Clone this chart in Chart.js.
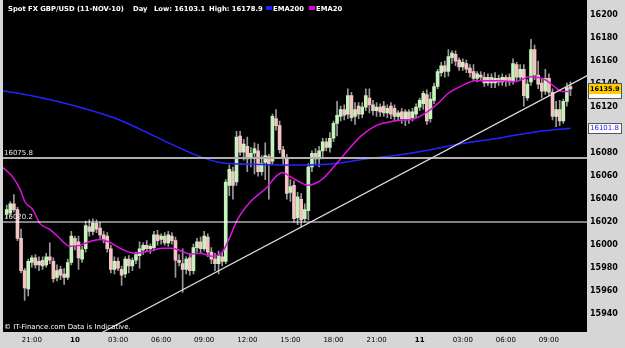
<!DOCTYPE html>
<html><head><meta charset="utf-8">
<script src="https://cdn.jsdelivr.net/npm/chart.js@4/dist/chart.umd.min.js"></script>
<style>html,body{margin:0;padding:0;background:#d6d6d6;overflow:hidden}canvas{display:block}</style>
</head><body>
<canvas id="c" width="625" height="348"></canvas>
<script>
// ---- data (15-minute candles, GBP/USD x10000, from 19:15 on 9 Nov to 10:30 on 11 Nov) ----
const OPEN = [16027,16028,16036,16031,16006,15978,15962,15985,15989,15983,15987,15983,15990,15986,15972,15979,15975,15972,15985,16006,
16003,15988,15997,16016,16012,16019,16015,16009,16008,15997,15979,15986,15979,15975,15988,15982,15987,15991,15996,16000,
15997,15998,16009,16005,16008,16002,16008,16004,15987,15984,15979,15989,15978,15998,16003,15997,16007,15994,15988,15984,
15990,15986,16052,16064,16055,16095,16081,16086,16076,16080,16082,16064,16072,16077,16073,16110,16104,16083,16076,16046,
16052,16024,16040,16023,16030,16068,16080,16075,16082,16090,16085,16093,16106,16112,16118,16114,16130,16112,16121,16114,
16120,16128,16122,16117,16120,16121,16115,16121,16119,16112,16116,16110,16116,16111,16114,16120,16123,16131,16110,16126,
16138,16150,16156,16151,16163,16166,16161,16155,16158,16154,16151,16145,16148,16146,16141,16146,16141,16145,16142,16146,
16146,16143,16157,16146,16153,16128,16142,16170,16148,16141,16134,16145,16133,16112,16118,16108,16125,16138];
const HIGH = [16035,16038,16044,16033,16014,15980,15988,15991,15992,15990,15990,15993,16002,15989,15983,15982,15980,15988,16012,16008,
16008,15999,16021,16022,16023,16022,16020,16012,16011,16000,15990,15989,15982,15990,15991,15989,15994,16003,16002,16004,
16001,16012,16013,16010,16011,16012,16011,16007,15992,15997,15990,15993,16001,16006,16007,16012,16010,15998,15993,15995,
15994,16057,16070,16068,16099,16099,16092,16094,16085,16089,16088,16078,16089,16079,16114,16118,16108,16086,16079,16057,
16056,16046,16045,16036,16071,16082,16084,16086,16093,16093,16098,16108,16125,16121,16122,16136,16133,16124,16124,16124,
16136,16136,16126,16124,16123,16125,16122,16124,16122,16117,16119,16118,16118,16119,16123,16128,16134,16135,16133,16141,
16153,16159,16160,16170,16169,16169,16163,16162,16161,16157,16157,16151,16151,16150,16149,16149,16150,16148,16149,16148,
16149,16162,16159,16157,16157,16144,16178.9,16174,16160,16145,16153,16149,16136,16125,16126,16127,16141,16142];
const LOW = [16024,16026,16029,16004,15976,15952,15956,15981,15980,15978,15979,15981,15984,15968,15969,15970,15966,15970,15983,15996,
15979,15985,15994,16008,16009,16011,16006,16002,15994,15976,15975,15978,15965,15972,15976,15978,15984,15980,15992,15995,
15993,15995,16000,16001,16000,15999,16001,15972,15982,15959,15975,15974,15975,15994,15993,15995,15990,15984,15978,15975,
15982,15984,16043,16040,16052,16078,16074,16064,16068,16062,16060,16061,16057,16040,16070,16100,16080,16070,16040,16038,
16020,16018,16016,16020,16022,16064,16071,16068,16075,16082,16081,16090,16095,16108,16109,16110,16108,16105,16110,16111,
16117,16115,16113,16112,16112,16112,16111,16110,16108,16109,16106,16104,16106,16108,16111,16117,16118,16105,16107,16123,
16136,16147,16146,16147,16158,16156,16152,16152,16150,16146,16143,16142,16143,16138,16139,16137,16137,16139,16139,16138,
16139,16140,16143,16143,16121,16126,16139,16144,16136,16128,16131,16130,16109,16103.1,16104,16106,16121,16130];
const CLOSE = [16031,16036,16031,16006,15978,15963,15986,15989,15983,15986,15982,15990,15987,15971,15978,15974,15972,15985,16008,16000,
15989,15996,16017,16012,16019,16014,16009,16005,15997,15979,15986,15980,15974,15988,15982,15987,15992,15997,16000,15997,
15999,16009,16004,16008,16002,16009,16004,15987,15985,15979,15988,15978,15998,16003,15997,16008,15994,15988,15984,15991,
15986,16055,16066,16052,16094,16081,16088,16075,16080,16084,16064,16071,16078,16071,16112,16104,16083,16076,16045,16051,
16023,16042,16022,16031,16068,16080,16075,16082,16090,16085,16093,16106,16113,16118,16113,16130,16111,16118,16114,16120,
16130,16122,16117,16120,16116,16115,16119,16114,16112,16115,16110,16116,16110,16116,16120,16126,16132,16108,16127,16138,
16151,16156,16151,16164,16167,16160,16155,16159,16153,16150,16145,16149,16146,16141,16146,16141,16145,16142,16146,16143,
16142,16158,16146,16153,16130,16140,16170,16148,16140,16134,16145,16133,16112,16118,16108,16125,16137,16135.9];

// EMA readings (candle position, value)
const EMA200_AT = [-1.03, 9.3, 20.4, 31.6, 42.7, 53.8, 59.4, 70.6, 81.7, 91.4, 99.0, 109.6, 116.5, 126.3, 137.4, 147.2, 157];
const EMA200 = [16134.4, 16128.4, 16119.9, 16108.7, 16092.5, 16077.0, 16072.0, 16070.2, 16069.7, 16071.0, 16074.5, 16078.7, 16082.2, 16088.2, 16093.3, 16098.5, 16101.8];
const EMA20_AT = [-1.03, 1.75, 3.7, 5.1, 7.3, 9.3, 12.1, 14.8, 17.6, 20.4, 23.2, 26.0, 28.2, 32.1, 35.7, 39.4, 43.3, 46.0, 48.8, 51.1,
53.8, 57.2, 60.0, 61.6, 64.4, 67.8, 72.5, 75.3, 76.9, 78.4, 81.7, 83.9, 87.8, 91.4, 95.1, 99.0, 102.6, 106.2, 109.6, 113.0,
116.5, 120.1, 122.9, 126.8, 130.4, 137.4, 141.6, 145.8, 150.0, 152.2, 154.7, 157];
const EMA20 = [16067.6, 16059.0, 16048.8, 16037.6, 16030.8, 16018.8, 16013.6, 16005.9, 15999.1, 15999.9, 16003.3, 16005.1, 16003.3, 15996.5, 15993.0, 15994.8, 15997.3, 15997.3, 15994.8, 15992.2,
15993.0, 15990.5, 15993.9, 16003.3, 16023.1, 16037.6, 16050.5, 16060.8, 16063.3, 16060.8, 16054.8, 16052.2, 16057.3, 16069.3, 16083.0, 16095.9, 16103.6, 16107.0, 16108.7, 16109.6,
16114.7, 16123.3, 16131.9, 16138.7, 16143.0, 16143.0, 16142.2, 16146.4, 16143.9, 16138.7, 16133.6, 16133.6];

const LEVELS = [16075.8, 16020.2];
const TREND_AT = [0, 162];
const TREND = [15880.3, 16148.0];

const X_TICK_AT = [7, 19, 31, 43, 55, 67, 79, 91, 103, 115, 127, 139, 151];
const X_TICK_LABELS = ['21:00', '10', '03:00', '06:00', '09:00', '12:00', '15:00', '18:00', '21:00', '11', '03:00', '06:00', '09:00'];
const DAY_LABELS = ['10', '11'];
const Y_TICKS = [15940, 15960, 15980, 16000, 16020, 16040, 16060, 16080, 16100, 16120, 16140, 16160, 16180, 16200];
const X_MIN = -1.03, X_MAX = 161.6;
const Y_MIN = 15924.6, Y_MAX = 16206.4;

const TITLE = 'Spot FX GBP/USD (11-NOV-10)';
const PERIOD = 'Day';
const DAY_LOW = 16103.1, DAY_HIGH = 16178.9;
const COPYRIGHT = '\u00A9 IT-Finance.com Data is Indicative.';

// ---- styles ----
const BG = '#d6d6d6';
const UP = '#c6f2bc';
const DOWN = '#f4c4c4';
const WICK = '#9a9a9a';
const FONT = 'DejaVu Sans';

const idx = OPEN.map((_, i) => i);
const wickData = idx.map(i => ({x: i, y: [LOW[i], HIGH[i]]}));
const bodyData = idx.map(i => ({x: i, y: [Math.min(OPEN[i], CLOSE[i]), Math.max(OPEN[i], CLOSE[i])]}));
const bodyColors = idx.map(i => CLOSE[i] >= OPEN[i] ? UP : DOWN);

const decor = {
  id: 'decor',
  beforeDraw(chart) {
    const {ctx, chartArea: a} = chart;
    ctx.save();
    ctx.fillStyle = BG;
    ctx.fillRect(0, 0, chart.width, chart.height);
    ctx.fillStyle = '#000';
    ctx.fillRect(a.left, 0, a.right - a.left, a.bottom);
    ctx.restore();
  },
  afterDatasetsDraw(chart) {
    const {ctx, chartArea: a, scales} = chart;
    const y = scales.y;
    ctx.save();
    ctx.textBaseline = 'alphabetic';
    ctx.font = '7px "' + FONT + '"';
    ctx.fillStyle = '#e8e8e8';
    LEVELS.forEach(v => {
      ctx.fillText(v.toFixed(1), a.left + 1, y.getPixelForValue(v) - 3);
    });
    ctx.fillStyle = '#fff';
    ctx.font = 'bold 6.8px "' + FONT + '"';
    ctx.fillText(TITLE, 8, 11);
    ctx.fillText(PERIOD, 133, 11);
    ctx.fillText('Low: ' + DAY_LOW.toFixed(1), 154, 11);
    ctx.fillText('High: ' + DAY_HIGH.toFixed(1), 209, 11);
    ctx.fillStyle = '#2020ff';
    ctx.fillRect(266, 6, 6, 4);
    ctx.fillStyle = '#fff';
    ctx.fillText('EMA200', 273, 11);
    ctx.fillStyle = '#e000e0';
    ctx.fillRect(309, 6, 6, 4);
    ctx.fillStyle = '#fff';
    ctx.fillText('EMA20', 316, 11);
    ctx.font = '7px "' + FONT + '"';
    ctx.fillText(COPYRIGHT, a.left + 1, a.bottom - 3);
    ctx.restore();
  },
  afterDraw(chart) {
    const {ctx, chartArea: a, scales} = chart;
    const y = scales.y;
    ctx.save();
    ctx.textBaseline = 'middle';
    const pc = Math.round(y.getPixelForValue(CLOSE[CLOSE.length - 1]));
    ctx.fillStyle = '#fff';
    ctx.fillRect(a.right + 1, pc - 6, 34, 16);
    ctx.fillStyle = '#ffcc00';
    ctx.fillRect(a.right + 1, pc - 6, 34, 11);
    ctx.strokeStyle = '#555';
    ctx.lineWidth = 1;
    ctx.strokeRect(a.right + 1.5, pc - 5.5, 33, 15);
    ctx.fillStyle = '#000';
    ctx.font = 'bold 6.5px "' + FONT + '"';
    ctx.fillText(CLOSE[CLOSE.length - 1].toFixed(1), a.right + 3, pc);
    const pe = Math.round(y.getPixelForValue(EMA200[EMA200.length - 1]));
    ctx.fillStyle = '#fff';
    ctx.fillRect(a.right + 1, pe - 5, 34, 11);
    ctx.strokeStyle = '#555';
    ctx.strokeRect(a.right + 1.5, pe - 4.5, 33, 10);
    ctx.fillStyle = '#2020ff';
    ctx.font = '7px "' + FONT + '"';
    ctx.fillText(EMA200[EMA200.length - 1].toFixed(1), a.right + 3, pe + 0.5);
    ctx.restore();
  }
};

const lineDs = (data, color, width, order) => ({
  type: 'line', data, borderColor: color, borderWidth: width, pointRadius: 0,
  fill: false, order, clip: 0
});

new Chart(document.getElementById('c'), {
  type: 'bar',
  data: {
    datasets: [
      {data: wickData, backgroundColor: WICK, barThickness: 1, grouped: false, order: 10, minBarLength: 1},
      {data: bodyData, backgroundColor: bodyColors, barThickness: 3, grouped: false, order: 9, minBarLength: 1},
      Object.assign(lineDs(EMA200_AT.map((x, k) => ({x, y: EMA200[k]})), '#2424ff', 1.5, 5), {cubicInterpolationMode: 'monotone'}),
      Object.assign(lineDs(EMA20_AT.map((x, k) => ({x, y: EMA20[k]})), '#e010e0', 1.5, 4), {cubicInterpolationMode: 'monotone'}),
      lineDs([{x: X_MIN, y: LEVELS[0]}, {x: X_MAX, y: LEVELS[0]}], '#b0b0b0', 2, 3),
      lineDs([{x: X_MIN, y: LEVELS[1]}, {x: X_MAX, y: LEVELS[1]}], '#ffffff', 1.2, 2),
      lineDs(TREND_AT.map((x, k) => ({x, y: TREND[k]})), '#dcdcdc', 1.2, 1)
    ]
  },
  options: {
    responsive: false,
    animation: false,
    devicePixelRatio: 1,
    events: [],
    layout: {padding: {left: 3, top: 3, right: 0, bottom: 0}},
    plugins: {legend: {display: false}, tooltip: {enabled: false}},
    scales: {
      x: {
        type: 'linear', min: X_MIN, max: X_MAX, offset: false,
        grid: {display: false, drawTicks: false}, border: {display: false},
        afterBuildTicks: s => { s.ticks = X_TICK_AT.map(v => ({value: v})); },
        afterFit: s => { s.height = 16; },
        ticks: {
          autoSkip: false, maxRotation: 0, padding: 4, color: '#000',
          callback: (v, i) => X_TICK_LABELS[i],
          font: ctx => ({family: FONT, size: 7, weight: DAY_LABELS.includes(X_TICK_LABELS[ctx.index]) ? 'bold' : 'normal'})
        }
      },
      y: {
        type: 'linear', position: 'right', min: Y_MIN, max: Y_MAX,
        grid: {display: false, drawTicks: false}, border: {display: false},
        afterBuildTicks: s => { s.ticks = Y_TICKS.map(v => ({value: v})); },
        afterFit: s => { s.width = 38; },
        ticks: {padding: 3, color: '#000', font: {family: FONT, size: 8, weight: 'bold'}, callback: v => String(v)}
      }
    }
  },
  plugins: [decor]
});
</script>
</body></html>
